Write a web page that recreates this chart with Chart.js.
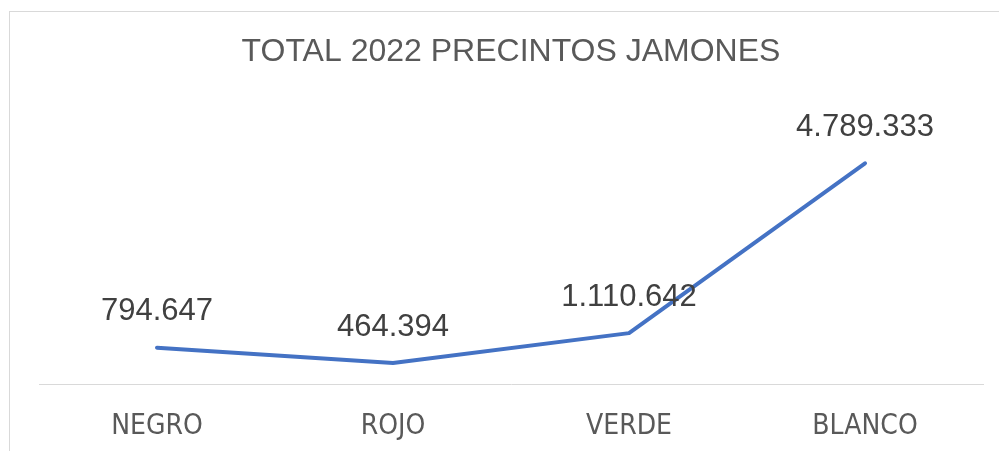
<!DOCTYPE html>
<html>
<head>
<meta charset="utf-8">
<script src="https://cdn.jsdelivr.net/npm/chart.js@4.4.0/dist/chart.umd.min.js"></script>
<style>
  html, body { margin: 0; padding: 0; background: #fff; overflow: hidden; }
  #wrap { position: relative; width: 999px; height: 451px; overflow: hidden; }
  #frame {
    position: absolute; left: 9px; top: 11px; width: 1200px; height: 700px;
    border: 1px solid #d9d9d9; box-sizing: border-box;
  }
  #c { position: absolute; left: 0; top: 0; }
</style>
</head>
<body>
<div id="wrap">
  <div id="frame"></div>
  <canvas id="c" width="999" height="480"></canvas>
</div>
<script>
  // datos: precintos de jamones 2022
  const categorias = ['NEGRO', 'ROJO', 'VERDE', 'BLANCO'];
  const precintos = [794647, 464394, 1110642, 4789333];
  const tituloTexto = 'TOTAL 2022 PRECINTOS JAMONES';

  function miles(v) {
    return String(v).replace(/\B(?=(\d{3})+(?!\d))/g, '.');
  }

  // etiquetas de valor encima de cada punto
  const etiquetas = {
    id: 'etiquetas',
    afterDatasetsDraw(chart) {
      const ctx = chart.ctx;
      const meta = chart.getDatasetMeta(0);
      ctx.save();
      ctx.font = '31px "Liberation Sans", Arial, sans-serif';
      ctx.fillStyle = '#404040';
      ctx.textAlign = 'center';
      ctx.textBaseline = 'middle';
      meta.data.forEach((pt, i) => {
        ctx.fillText(miles(precintos[i]), pt.x, pt.y - 36);
      });
      ctx.restore();
    }
  };

  new Chart(document.getElementById('c'), {
    type: 'line',
    data: {
      labels: categorias,
      datasets: [{
        data: precintos,
        borderColor: '#4472C4',
        borderWidth: 4,
        borderCapStyle: 'round',
        borderJoinStyle: 'round',
        pointRadius: 0,
        tension: 0,
        fill: false,
      }],
    },
    options: {
      responsive: false,
      animation: false,
      layout: { padding: { top: 0, left: 39, right: 16, bottom: 18 } },
      plugins: {
        legend: { display: false },
        tooltip: { enabled: false },
        title: {
          display: true,
          text: tituloTexto,
          color: '#595959',
          font: { family: '"Liberation Sans", Arial, sans-serif', size: 32, weight: 'normal', lineHeight: 1.2 },
          padding: { top: 33, bottom: 36 },
        },
      },
      scales: {
        x: {
          offset: true,
          grid: { display: false },
          border: { display: true, color: '#d9d9d9', width: 1 },
          ticks: {
            color: '#595959',
            padding: 18,
            font: { family: '"DejaVu Sans Condensed", "Liberation Sans Narrow", Arial, sans-serif', size: 28, lineHeight: 1.2 },
          },
        },
        y: {
          display: false,
          min: 0,
          max: 6000000,
        },
      },
    },
    plugins: [etiquetas],
  });
</script>
</body>
</html>
